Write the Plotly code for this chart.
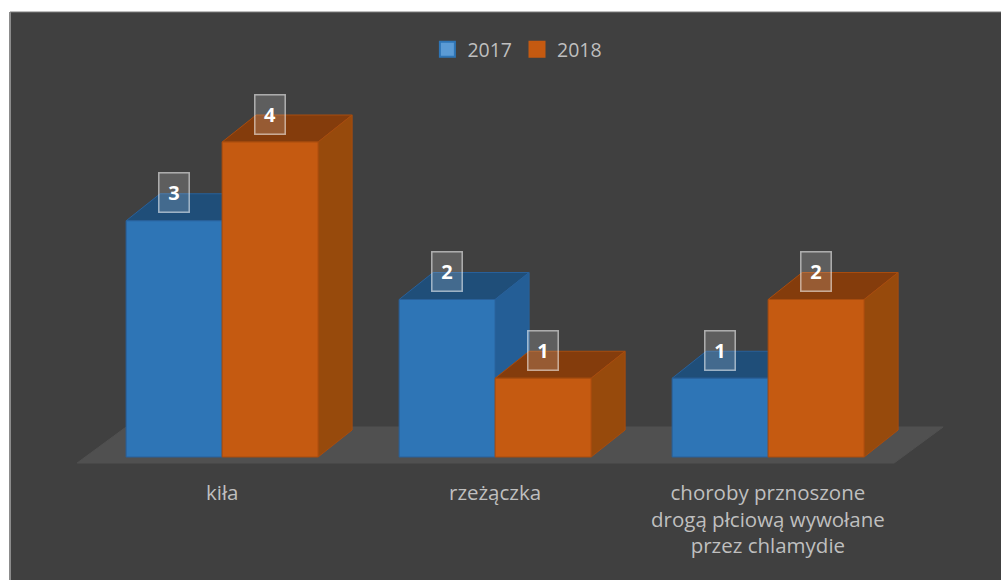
import plotly.graph_objects as go

# ---- data ----
categories = [
    "kiła",
    "rzeżączka",
    "choroby prznoszone<br>drogą płciową wywołane<br>przez chlamydie",
]
years = ["2017", "2018"]
values_2017 = [3, 2, 1]
values_2018 = [4, 1, 2]
series_values = [values_2017, values_2018]

# ---- page / axis geometry ----
W, H = 1001, 580
M_L, M_T = 10, 12
X_RANGE = [-0.777, 2.853]
Y_RANGE = [-1.562, 5.651]
PX_X = (W - M_L) / (X_RANGE[1] - X_RANGE[0])
PX_Y = (H - M_T) / (Y_RANGE[1] - Y_RANGE[0])


def dx(px):
    return px / PX_X


def dy(px):
    return px / PX_Y


BAR_W = dx(96)
DEPTH_X, DEPTH_Y = dx(34), dy(27)

styles = {
    "2017": dict(front="#2E75B6", top="#1F4E79", side="#245E96",
                 edge="#28609A", legend="#5B9BD5"),
    "2018": dict(front="#C55A11", top="#843C0C", side="#974A0C",
                 edge="#A84C0E", legend="#C55A11"),
}
TEXT_COLOR = "#BFBFBF"
FONT = "Open Sans"


def face(pts, fill, edge):
    xs = [p[0] for p in pts] + [pts[0][0]]
    ys = [p[1] for p in pts] + [pts[0][1]]
    return go.Scatter(x=xs, y=ys, mode="lines", fill="toself",
                      fillcolor=fill, line=dict(color=edge, width=1),
                      hoverinfo="skip", showlegend=False)


fig = go.Figure()

# floor plane under the bars
n = len(categories)
f_y0 = dy(-6)
f_y1 = f_y0 + dy(36)
f_l = -BAR_W - dx(49)
f_r = (n - 1) + BAR_W + dx(30)
f_sh = dx(49)
fig.add_trace(face([(f_l, f_y0), (f_r, f_y0), (f_r + f_sh, f_y1), (f_l + f_sh, f_y1)],
                   "#505050", "#505050"))

annotations = []
for i in range(n):
    for s, year in enumerate(years):
        st = styles[year]
        v = series_values[s][i]
        left = i - BAR_W + s * BAR_W
        right = left + BAR_W
        top = [(left, v), (right, v), (right + DEPTH_X, v + DEPTH_Y), (left + DEPTH_X, v + DEPTH_Y)]
        side = [(right, 0), (right + DEPTH_X, DEPTH_Y), (right + DEPTH_X, v + DEPTH_Y), (right, v)]
        front = [(left, 0), (right, 0), (right, v), (left, v)]
        fig.add_trace(face(top, st["top"], st["edge"]))
        fig.add_trace(face(side, st["side"], st["edge"]))
        fig.add_trace(face(front, st["front"], st["edge"]))
        annotations.append(dict(
            x=(left + right) / 2, y=v, xref="x", yref="y", yshift=28,
            text=f"<b>{v}</b>", showarrow=False,
            font=dict(family=FONT, size=20, color="#FFFFFF"),
            bgcolor="rgba(255,255,255,0.16)",
            bordercolor="rgba(255,255,255,0.55)", borderwidth=1.5,
            borderpad=4, width=21, height=30,
        ))

for i, cat in enumerate(categories):
    annotations.append(dict(
        x=i, y=dy(-19), xref="x", yref="y", yanchor="top",
        text=cat, showarrow=False, align="center",
        font=dict(family=FONT, size=20.5, color=TEXT_COLOR),
    ))

# legend entries
for year in years:
    st = styles[year]
    fig.add_trace(go.Scatter(
        x=[None], y=[None], mode="markers", name=year,
        marker=dict(symbol="square", size=15, color=st["legend"],
                    line=dict(color=st["front"], width=2)),
    ))

fig.update_layout(
    width=W, height=H,
    margin=dict(l=M_L, r=0, t=M_T, b=0, pad=0),
    paper_bgcolor="#FFFFFF",
    plot_bgcolor="#404040",
    showlegend=True,
    legend=dict(orientation="h", x=0.512, xanchor="center", y=0.968, yanchor="top",
                font=dict(family=FONT, size=19.5, color=TEXT_COLOR),
                bgcolor="rgba(0,0,0,0)", itemclick=False, itemdoubleclick=False),
    xaxis=dict(range=X_RANGE, visible=False, fixedrange=True),
    yaxis=dict(range=Y_RANGE, visible=False, fixedrange=True),
    annotations=annotations,
    shapes=[
        dict(type="line", xref="paper", yref="paper", x0=0, x1=0, y0=0, y1=1,
             line=dict(color="#8C8C8C", width=2)),
        dict(type="line", xref="paper", yref="paper", x0=0, x1=1, y0=1, y1=1,
             line=dict(color="#7A7A7A", width=1)),
    ],
)

fig.write_html("out.html")
